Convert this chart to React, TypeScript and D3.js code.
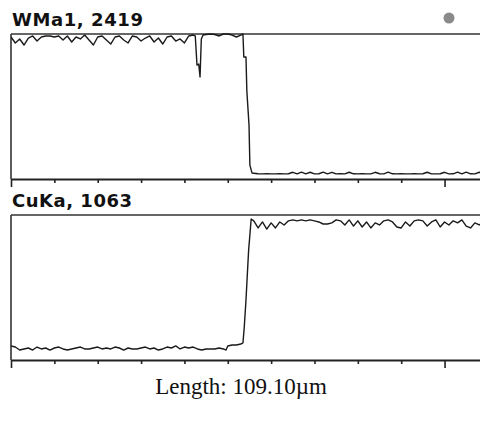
import React, { useEffect, useRef } from "react";
import * as d3 from "d3";

// line-scan profiles, position in µm vs counts
const scanLength = 109.1;
const tickPositions = [0, 10, 20, 30, 40, 50, 60, 70, 80, 90, 100];
const majorTicks = [0, 100];

const wmaTitle = "WMa1, 2419";
const wmaMax = 2419;
const wmaPoints: [number, number][] = [
  [0, 2369], [1, 2269], [2, 2336], [3, 2235], [4, 2352], [5, 2386], [6, 2302], [7, 2369],
  [8, 2386], [9, 2386], [10, 2369], [11, 2386], [12, 2319], [13, 2386], [14, 2285], [15, 2369],
  [16, 2336], [17, 2402], [18, 2319], [19, 2235], [20, 2369], [21, 2386], [22, 2319], [23, 2252],
  [24, 2369], [25, 2386], [26, 2319], [27, 2269], [28, 2386], [29, 2369], [30, 2302], [31, 2352],
  [32, 2386], [33, 2285], [34, 2352], [35, 2252], [36, 2369], [37, 2386], [38, 2302], [39, 2336],
  [40, 2269], [41, 2386], [42, 2402], [42.5, 2386], [42.9, 1901], [43.3, 1918], [43.6, 1701],
  [43.9, 2336], [44.3, 2402], [45, 2410], [46, 2419], [47, 2410], [48, 2386], [49, 2419],
  [50, 2419], [51, 2402], [52, 2369], [53, 2402], [53.5, 2419], [53.7, 2035], [54.2, 2035],
  [54.4, 1467], [54.9, 900], [55.1, 231], [55.6, 98], [56, 95],
  [57, 88], [58, 85], [59, 88], [60, 86], [61, 85], [62, 88], [63, 85], [64, 87], [65, 112],
  [66, 86], [67, 115], [68, 87], [69, 113], [70, 85], [71, 88], [72, 115], [73, 86], [74, 112],
  [75, 85], [76, 88], [77, 86], [78, 113], [79, 87], [80, 85], [81, 88], [82, 86], [83, 85],
  [84, 112], [85, 88], [86, 86], [87, 114], [88, 87], [89, 85], [90, 88], [91, 86], [92, 85],
  [93, 87], [94, 86], [95, 88], [96, 113], [97, 86], [98, 85], [99, 88], [100, 112], [101, 86],
  [102, 87], [103, 114], [104, 86], [105, 115], [106, 87], [107, 86], [108, 113], [109, 88],
];

const cuTitle = "CuKa, 1063";
const cuMax = 1063;
const cuPoints: [number, number][] = [
  [0, 103], [1, 95], [2, 73], [3, 81], [4, 88], [5, 73], [6, 95], [7, 81], [8, 88], [9, 73],
  [10, 88], [11, 95], [12, 81], [13, 73], [14, 81], [15, 88], [16, 95], [17, 81], [18, 81],
  [19, 88], [20, 95], [21, 81], [22, 88], [23, 81], [24, 95], [25, 88], [26, 73], [27, 88],
  [28, 81], [29, 81], [30, 88], [31, 95], [32, 81], [33, 88], [34, 73], [35, 81], [36, 95],
  [37, 88], [38, 103], [39, 81], [40, 95], [41, 88], [42, 95], [43, 81], [44, 73], [45, 81],
  [46, 81], [47, 81], [48, 88], [49, 81], [49.6, 73], [50, 103], [51, 110], [52, 110],
  [53, 117], [53.5, 125], [53.8, 240], [54.2, 440], [54.8, 800], [55.4, 1034],
  [56, 1020], [57, 968], [58, 1012], [59, 960], [60, 1005], [61, 968], [62, 1012], [63, 990],
  [64, 1020], [65, 1027], [66, 1020], [67, 1027], [68, 1020], [69, 1027], [70, 1020], [71, 1012],
  [72, 997], [73, 997], [74, 1005], [75, 1027], [76, 1020], [77, 990], [78, 1027], [79, 982],
  [80, 1020], [81, 975], [82, 1012], [83, 968], [84, 1005], [85, 990], [86, 1020], [87, 1027],
  [88, 1012], [89, 975], [90, 968], [91, 1012], [92, 982], [93, 1020], [94, 1027], [95, 1020],
  [96, 982], [97, 1012], [98, 1027], [99, 975], [100, 1012], [101, 990], [102, 1020], [103, 1005],
  [104, 1027], [105, 982], [106, 968], [107, 1005], [108, 990], [109, 1012],
];

const lengthLabel = "Length: 109.10\u00b5m";

const width = 480;
const height = 421;
const left = 11;
const panels = [
  { title: wmaTitle, points: wmaPoints, max: wmaMax, top: 34, bottom: 179, titleWidth: 131 },
  { title: cuTitle, points: cuPoints, max: cuMax, top: 215, bottom: 360, titleWidth: 120 },
];

export default function App() {
  const svgRef = useRef<SVGSVGElement>(null);

  useEffect(() => {
    const svg = d3.select(svgRef.current);
    svg.selectAll("*").remove();

    const x = d3.scaleLinear().domain([0, scanLength]).range([left, 484]);

    svg.append("rect").attr("width", width).attr("height", height).attr("fill", "#fff");

    svg.append("defs").append("clipPath").attr("id", "plotClip")
      .append("rect").attr("x", left).attr("y", 0).attr("width", width - left).attr("height", height);

    panels.forEach((p) => {
      const y = d3.scaleLinear().domain([0, p.max]).range([p.bottom, p.top]);

      // title
      svg.append("text")
        .attr("x", 12)
        .attr("y", p.top - 8)
        .attr("font-family", "'DejaVu Sans', sans-serif")
        .attr("font-weight", "bold")
        .attr("font-size", 18)
        .attr("textLength", p.titleWidth)
        .attr("lengthAdjust", "spacing")
        .attr("fill", "#111")
        .text(p.title);

      // frame: top and left
      svg.append("line")
        .attr("x1", left).attr("x2", width)
        .attr("y1", p.top).attr("y2", p.top)
        .attr("stroke", "#333").attr("stroke-width", 1.6);
      svg.append("line")
        .attr("x1", left).attr("x2", left)
        .attr("y1", p.top).attr("y2", p.bottom)
        .attr("stroke", "#333").attr("stroke-width", 1.6);

      // bottom axis
      const axis = d3.axisBottom(x)
        .tickValues(tickPositions)
        .tickSize(4)
        .tickSizeOuter(0)
        .tickFormat(() => "");
      const g = svg.append("g")
        .attr("transform", `translate(0,${p.bottom})`)
        .call(axis);
      g.select(".domain").attr("stroke", "#222").attr("stroke-width", 2);
      g.selectAll(".tick line")
        .attr("stroke", "#222")
        .attr("stroke-width", 1.6)
        .attr("y2", (d: any) => (majorTicks.includes(d) ? 8 : 4));

      // profile
      const line = d3.line<[number, number]>()
        .x((d) => x(d[0]))
        .y((d) => y(d[1]));
      svg.append("path")
        .datum(p.points)
        .attr("clip-path", "url(#plotClip)")
        .attr("d", line)
        .attr("fill", "none")
        .attr("stroke", "#1a1a1a")
        .attr("stroke-width", 1.4)
        .attr("stroke-linejoin", "round");
    });

    // status dot
    svg.append("circle")
      .attr("cx", 449).attr("cy", 18).attr("r", 5.5)
      .attr("fill", "#8a8a8a");

    svg.append("text")
      .attr("x", 241)
      .attr("y", 394)
      .attr("text-anchor", "middle")
      .attr("font-family", "'Liberation Serif', 'Times New Roman', serif")
      .attr("font-size", 23)
      .attr("fill", "#111")
      .text(lengthLabel);
  }, []);

  return (
    <svg
      ref={svgRef}
      width={width}
      height={height}
      style={{ position: "absolute", left: 0, top: 0 }}
    />
  );
}
